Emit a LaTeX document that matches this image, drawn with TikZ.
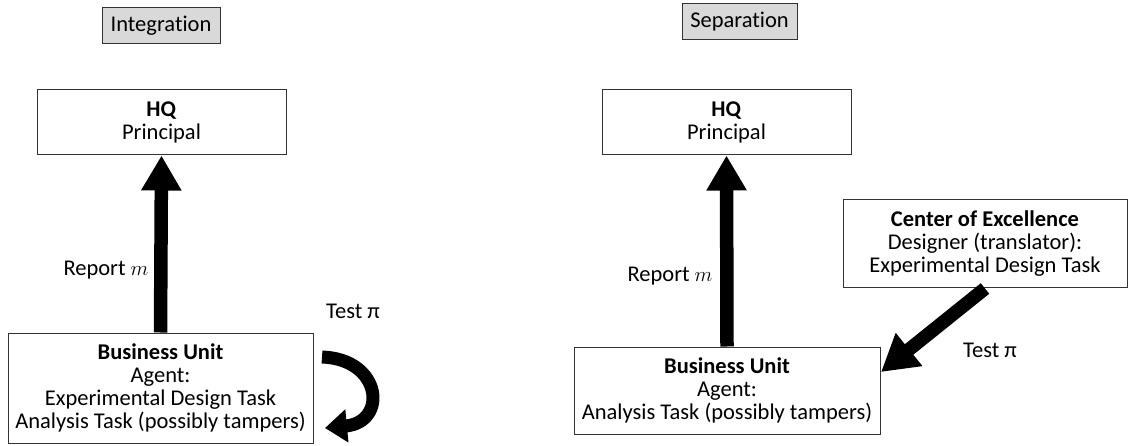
\documentclass[tikz,border=0pt]{standalone}
\usepackage{fontspec}
\setmainfont{Carlito}[Ligatures=NoCommon]
\usetikzlibrary{arrows.meta}
\begin{document}
\begin{tikzpicture}[x=1pt,y=-1pt,
  txt/.style={font=\fontsize{22.5}{23}\selectfont},
  box/.style={txt, draw=black!80, line width=1pt, align=center, inner sep=0pt},
  tag/.style={box, fill=black!15},
  big/.style={line width=13.5pt, -{Triangle[length=35pt,width=38pt]}},
  bigdiag/.style={line width=13.5pt, -{Triangle[length=36pt,width=40pt]}},
  curved/.style={line width=13pt, -{Triangle[length=22pt,width=32pt]}}
]
\useasboundingbox (0,0) rectangle (1135,446);
% ---------- left: Integration ----------
\node[tag, minimum width=118pt, minimum height=36pt] (int) at (161,26) {Integration};
\node[box, minimum width=249pt, minimum height=65pt] (hq1) at (161.5,122.5) {\textbf{HQ}\\Principal};
\node[box, minimum width=305pt, minimum height=110pt] (bu1) at (160.5,388) {\textbf{Business Unit}\\Agent:\\Experimental Design Task\\Analysis Task (possibly tampers)};
\node[txt] (rep1) at (106,270) {Report $m$};
\node[txt] (test1) at (353,311) {Test π};
\draw[big] (bu1.north) -- (hq1.south);
\coordinate (c1s) at (322,357);
\coordinate (c1e) at (325,428);
\draw[curved] (c1s) .. controls (382,359) and (388,422) .. (c1e);
% ---------- right: Separation ----------
\node[tag, minimum width=115pt, minimum height=36pt] (sep) at (739.5,22) {Separation};
\node[box, minimum width=249pt, minimum height=65pt] (hq2) at (726.5,122.5) {\textbf{HQ}\\Principal};
\node[box, minimum width=306pt, minimum height=87pt] (bu2) at (727,390.5) {\textbf{Business Unit}\\Agent:\\Analysis Task (possibly tampers)};
\node[box, minimum width=284pt, minimum height=88pt] (coe) at (985,244) {\textbf{Center of Excellence}\\Designer (translator):\\Experimental Design Task};
\node[txt] (rep2) at (670,276) {Report $m$};
\node[txt] (test2) at (990,350) {Test π};
\draw[big] (bu2.north) -- (hq2.south);
\coordinate (tipB) at (881,372);
\draw[bigdiag] (coe.south) -- (tipB);
\end{tikzpicture}
\end{document}
